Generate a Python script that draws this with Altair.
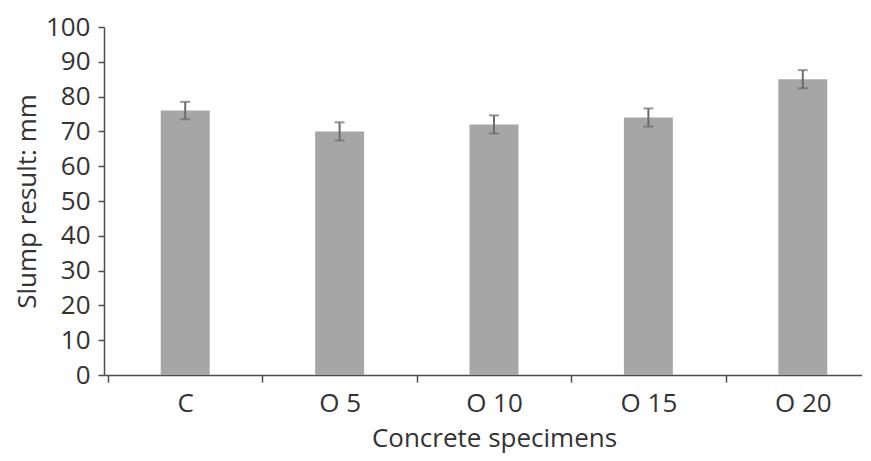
import altair as alt
import pandas as pd

categories = ["C", "O 5", "O 10", "O 15", "O 20"]
slump = [76, 70, 72, 74, 85]
err = [2.5, 2.6, 2.6, 2.6, 2.6]
y_ticks = [0, 10, 20, 30, 40, 50, 60, 70, 80, 90, 100]

df = pd.DataFrame({
    "spec": categories,
    "slump": slump,
    "lo": [v - e for v, e in zip(slump, err)],
    "hi": [v + e for v, e in zip(slump, err)],
})

FONT = "Open Sans"
TXT = "#333333"
AX = "#4d4d4d"

x_axis = alt.Axis(
    labelAngle=0, tickBand="extent", tickSize=7, tickWidth=1.5,
    tickColor=AX, domainColor=AX, domainWidth=1.5,
    labelFont=FONT, labelFontSize=26, labelColor=TXT, labelPadding=8,
    titleFont=FONT, titleFontSize=26, titleColor=TXT, titleFontWeight="normal",
    titlePadding=9,
)
x_scale = alt.Scale(paddingInner=0, paddingOuter=0.026, range=[0, 780])

y_axis = alt.Axis(
    values=y_ticks, grid=False, tickSize=6, tickWidth=1.5,
    labelOverlap=False,
    tickColor=AX, domainColor=AX, domainWidth=1.5,
    labelFont=FONT, labelFontSize=26, labelColor=TXT, labelPadding=8,
    titleFont=FONT, titleFontSize=26, titleColor=TXT, titleFontWeight="normal",
    titlePadding=5,
)
y_scale = alt.Scale(domain=[0, 100], nice=False)

def X():
    return alt.X("spec:N", sort=categories, title="Concrete specimens", scale=x_scale, axis=x_axis)

def Y(field):
    return alt.Y(field, scale=y_scale, title="Slump result: mm", axis=y_axis)

bars = alt.Chart(df).mark_bar(color="#a6a6a6", width=alt.RelativeBandSize(0.317)).encode(
    x=X(), y=Y("slump:Q"),
)

rules = alt.Chart(df).mark_rule(color="#6b6b6b", strokeWidth=2).encode(
    x=X(), y=Y("lo:Q"), y2="hi:Q",
)

caps_hi = alt.Chart(df).mark_tick(color="#6b6b6b", thickness=2, size=10).encode(
    x=X(), y=Y("hi:Q"),
)
caps_lo = alt.Chart(df).mark_tick(color="#6b6b6b", thickness=2, size=10).encode(
    x=X(), y=Y("lo:Q"),
)

chart = (
    alt.layer(bars, rules, caps_hi, caps_lo)
    .properties(
        width=758, height=348,
        autosize=alt.AutoSizeParams(type="none"),
        padding={"left": 96, "top": 19, "right": 0, "bottom": 78},
        background="white",
    )
    .configure_view(stroke=None)
)

chart.save("out.html", embed_options={"renderer": "svg", "actions": False})
